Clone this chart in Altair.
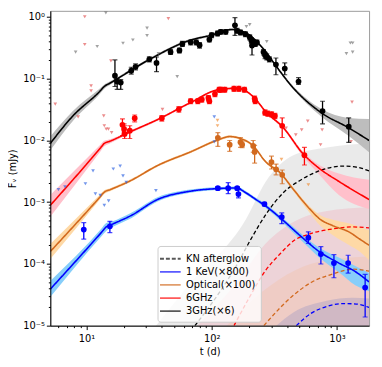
import altair as alt
import pandas as pd

# ---------------- model curves (t in days, F in mJy) ----------------
m3_t = [5.15, 7.8, 12.8, 13.9, 15.5, 31.4, 67.1, 97.7, 145.6, 184, 264, 322, 438, 754, 1236, 1807]
m3_f = [0.0089, 0.0248, 0.0621, 0.0743, 0.0845, 0.20, 0.415, 0.499, 0.621, 0.557, 0.288, 0.166, 0.0743, 0.0277, 0.016, 0.00993]
m3_lo = [0.0069, 0.0206, 0.056, 0.068, 0.079, 0.19, 0.395, 0.475, 0.595, 0.535, 0.275, 0.158, 0.070, 0.024, 0.0118, 0.0064]
m3_hi = [0.0115, 0.0298, 0.069, 0.080, 0.090, 0.21, 0.435, 0.52, 0.645, 0.58, 0.30, 0.174, 0.079, 0.032, 0.023, 0.0222]

m6_t = [5.15, 12.8, 13.9, 15.5, 21.9, 37.6, 67.1, 113, 162, 213, 275, 372, 535, 722, 1037, 1807]
m6_f = [8.87e-4, 7.3e-3, 8.9e-3, 9.71e-3, 0.01345, 0.022, 0.0403, 0.0659, 0.0698, 0.0515, 0.028, 0.01615, 0.0061, 0.00352, 0.00216, 0.0011]
m6_lo = [5.8e-4, 6.4e-3, 8.0e-3, 9.0e-3, 0.0128, 0.021, 0.0388, 0.0635, 0.0672, 0.0495, 0.0268, 0.0153, 0.0055, 0.0028, 0.0013, 0.00077]
m6_hi = [1.3e-3, 8.3e-3, 9.8e-3, 1.04e-2, 0.0141, 0.023, 0.0418, 0.0683, 0.0724, 0.0535, 0.0292, 0.0170, 0.0066, 0.0040, 0.0029, 0.0023]

mo_t = [5.15, 12.8, 13.9, 15.5, 21.9, 37.6, 67.5, 109.5, 139.3, 166.9, 212.6, 270, 355, 451, 610, 731, 930, 1258, 1507, 1807]
mo_f = [1.585e-4, 1.2e-3, 1.45e-3, 1.59e-3, 2.16e-3, 3.97e-3, 6.47e-3, 9.93e-3, 0.0115, 0.0108, 0.00827, 0.00449, 0.00293, 0.00159, 7.66e-4, 5.31e-4, 4.15e-4, 3.26e-4, 2.55e-4, 2.0e-4]
mo_lo = [1.2e-4, 1.1e-3, 1.35e-3, 1.5e-3, 2.05e-3, 3.8e-3, 6.2e-3, 9.5e-3, 0.011, 0.0103, 0.0079, 0.0043, 0.0028, 0.00148, 6.6e-4, 4.2e-4, 2.9e-4, 2.0e-4, 1.6e-4, 1.15e-4]
mo_hi = [2.1e-4, 1.32e-3, 1.56e-3, 1.68e-3, 2.27e-3, 4.15e-3, 6.75e-3, 1.04e-2, 0.0121, 0.0113, 0.0087, 0.0047, 0.0031, 0.0017, 8.4e-4, 6.2e-4, 5.2e-4, 4.5e-4, 4.0e-4, 3.5e-4]

mx_t = [5.15, 13.2, 14.4, 16.0, 22.8, 37, 67.5, 109.5, 157, 188, 226, 270, 372, 503, 722, 1037, 1403, 1807]
mx_f = [3.9e-5, 3.24e-4, 3.96e-4, 4.36e-4, 6.08e-4, 1.1e-3, 1.5e-3, 1.65e-3, 1.69e-3, 1.41e-3, 1.1e-3, 8.64e-4, 5.06e-4, 2.92e-4, 1.585e-4, 1.03e-4, 7.5e-5, 5.1e-5]
mx_lo = [2.9e-5, 2.8e-4, 3.4e-4, 3.9e-4, 5.5e-4, 1.02e-3, 1.42e-3, 1.57e-3, 1.6e-3, 1.33e-3, 1.03e-3, 8.0e-4, 4.6e-4, 2.55e-4, 1.27e-4, 7.3e-5, 4.5e-5, 3.6e-5]
mx_hi = [5.3e-5, 3.75e-4, 4.6e-4, 4.85e-4, 6.7e-4, 1.2e-3, 1.6e-3, 1.74e-3, 1.78e-3, 1.5e-3, 1.17e-3, 9.3e-4, 5.5e-4, 3.25e-4, 1.83e-4, 1.27e-4, 9.2e-5, 7.1e-5]

# ---------------- KN afterglow (dashed) ----------------
kn3_t = [73.5, 117.7, 160, 202.5, 275.4, 374.6, 519, 718, 1109, 1481, 1807]
kn3_f = [1.0e-5, 3.67e-5, 9.86e-5, 2.37e-4, 6.61e-4, 1.43e-3, 2.3e-3, 3.19e-3, 3.83e-3, 3.63e-3, 3.19e-3]
kn6_t = [150.8, 203.6, 267, 348, 465, 610, 925, 1329, 1807]
kn6_f = [1.0e-5, 3.05e-5, 7.62e-5, 1.42e-4, 2.46e-4, 3.07e-4, 3.68e-4, 3.96e-4, 3.82e-4]
kno_t = [261, 342, 465, 633, 925, 1329, 1807]
kno_f = [1.0e-5, 1.83e-5, 3.29e-5, 5.1e-5, 6.84e-5, 8.2e-5, 7.62e-5]
knx_t = [474, 621, 830, 1109, 1429, 1807]
knx_f = [1.0e-5, 1.58e-5, 2.04e-5, 2.28e-5, 2.24e-5, 1.97e-5]

# KN uncertainty regions (upper edges; lower edges run below the axis)
kb3_t = [35.7, 64.8, 188.3, 270, 449, 830, 1807]
kb3_hi = [9.8e-6, 4.4e-5, 5.31e-4, 2.13e-3, 5.73e-3, 7.68e-3, 8.9e-3]
kb3_lo = [1e-6, 1e-6, 1e-6, 1e-6, 1e-6, 1e-6, 1e-6]
kb6_t = [76.2, 157, 270, 465, 815, 1807]
kb6_hi = [9.8e-6, 4.92e-5, 2.13e-4, 4.93e-4, 7.11e-4, 8.24e-4]
kb6_lo = [1e-6, 1e-6, 1e-6, 1e-6, 1e-6, 1e-6]
kbo_t = [131, 247, 465, 815, 1807]
kbo_hi = [9.8e-6, 3.4e-5, 7.91e-5, 1.14e-4, 1.32e-4]
kbo_lo = [1e-6, 1e-6, 1e-6, 1e-6, 1e-6]
kbx_t = [324, 449, 830, 1329, 1807]
kbx_hi = [9.8e-6, 1.64e-5, 2.54e-5, 2.84e-5, 2.74e-5]
kbx_lo = [1e-6, 1e-6, 1e-6, 1e-6, 1e-6]

# ---------------- observations ----------------
d3_t = [16.9, 17.6, 18.8, 22.8, 24.7, 31.8, 36.3, 47.0, 55.3, 58.4, 68.0, 75.3, 80.1, 95.9, 100, 111.5, 118.3, 129.5, 153.5, 160, 169.9, 186, 201.4, 207.3, 210, 216.5, 222.8, 229.8, 259.4, 267, 275.4, 289, 326, 383.5, 494, 768, 1243]
d3_f = [0.111, 0.0893, 0.086, 0.1336, 0.1546, 0.205, 0.179, 0.268, 0.285, 0.363, 0.386, 0.386, 0.346, 0.426, 0.504, 0.537, 0.571, 0.571, 0.727, 0.593, 0.557, 0.523, 0.464, 0.411, 0.342, 0.386, 0.363, 0.386, 0.268, 0.237, 0.223, 0.205, 0.168, 0.145, 0.0893, 0.0298, 0.0166]
d3_lo = [0.0743, 0.0667, 0.0666, 0.118, 0.138, 0.185, 0.129, 0.245, 0.26, 0.33, 0.35, 0.35, 0.31, 0.39, 0.46, 0.49, 0.52, 0.52, 0.499, 0.54, 0.51, 0.475, 0.42, 0.37, 0.24, 0.35, 0.33, 0.35, 0.24, 0.21, 0.2, 0.185, 0.115, 0.115, 0.08, 0.0185, 0.00923]
d3_hi = [0.20, 0.10, 0.096, 0.152, 0.172, 0.225, 0.223, 0.295, 0.31, 0.4, 0.42, 0.42, 0.38, 0.465, 0.55, 0.585, 0.62, 0.62, 0.964, 0.65, 0.61, 0.57, 0.51, 0.455, 0.431, 0.42, 0.4, 0.42, 0.295, 0.265, 0.25, 0.225, 0.215, 0.179, 0.1033, 0.0429, 0.023]

d6_t = [19.4, 20.0, 20.2, 22.2, 24.3, 40.0, 54.7, 68.0, 77.6, 83.5, 94.2, 95.9, 106.2, 115, 118.3, 127.2, 150.8, 165, 182.6, 220.4, 222.8, 267, 280.4, 301.4, 320, 365.8, 550.6]
d6_f = [0.0178, 0.0152, 0.0127, 0.0143, 0.0228, 0.0228, 0.0317, 0.0429, 0.0429, 0.0457, 0.0484, 0.0429, 0.0561, 0.0659, 0.0659, 0.0659, 0.0684, 0.0684, 0.0659, 0.0474, 0.0429, 0.028, 0.027, 0.0264, 0.0248, 0.0172, 0.00573]
d6_lo = [0.0119, 0.0125, 0.0107, 0.0107, 0.0199, 0.0205, 0.0285, 0.039, 0.039, 0.0415, 0.044, 0.039, 0.051, 0.06, 0.06, 0.06, 0.062, 0.062, 0.06, 0.043, 0.039, 0.0255, 0.0245, 0.024, 0.0225, 0.0111, 0.00398]
d6_hi = [0.0222, 0.0185, 0.0172, 0.0172, 0.0257, 0.0252, 0.035, 0.047, 0.047, 0.05, 0.053, 0.047, 0.062, 0.072, 0.072, 0.072, 0.075, 0.075, 0.072, 0.052, 0.047, 0.031, 0.0297, 0.029, 0.0272, 0.023, 0.00768]

do_t = [112.1, 139.3, 169.9, 175.2, 214.6, 220.4, 300.4, 327, 365.8]
do_f = [0.01096, 0.00848, 0.00933, 0.00848, 0.00812, 0.00647, 0.00444, 0.0034, 0.00276]
do_lo = [0.00797, 0.00664, 0.00768, 0.0076, 0.0064, 0.00428, 0.00343, 0.00276, 0.00198]
do_hi = [0.0133, 0.00993, 0.0111, 0.0094, 0.00993, 0.00827, 0.00553, 0.00412, 0.00331]

dx_t = [9.53, 15.4, 112, 135.5, 160, 163.6, 264, 363, 591.6, 745, 947, 1229, 1681]
dx_f = [3.59e-4, 4.06e-4, 1.68e-3, 1.68e-3, 1.68e-3, 1.35e-3, 9.29e-4, 5.71e-4, 2.65e-4, 1.44e-4, 1.03e-4, 1.03e-4, 4.14e-5]
dx_lo = [2.52e-4, 3.21e-4, 1.58e-3, 1.37e-3, 1.58e-3, 1.17e-3, 8.7e-4, 4.47e-4, 2.15e-4, 9.96e-5, 5.97e-5, 7.1e-5, 1.38e-5]
dx_hi = [4.64e-4, 4.88e-4, 1.78e-3, 2.06e-3, 1.78e-3, 1.65e-3, 9.9e-4, 6.68e-4, 3.3e-4, 1.9e-4, 1.41e-4, 1.38e-4, 6.76e-5]

# upper limits
u3_t = [14.3, 8.2, 12.2, 19.6, 23.5, 30.5, 30.5, 37.6, 53.1, 189.4, 201.4, 275.4, 1191, 1281, 1336, 1336]
u3_f = [1.158, 0.268, 0.33, 0.372, 0.42, 0.652, 0.493, 0.252, 0.107, 0.693, 0.746, 0.396, 0.252, 0.376, 0.376, 0.268]
u6_t = [9.7, 9.7, 45.1, 15.7, 10.9, 10.9, 5.64, 8.59, 13.75, 13.9, 14.4, 15.0, 15.9, 40.5, 1321, 393, 469.6, 523.4, 585.5, 762.5, 740.7, 1297]
u6_f = [1.0, 0.355, 0.929, 0.193, 0.0762, 0.0631, 0.0385, 0.0239, 0.0248, 0.0172, 0.0152, 0.0152, 0.0133, 0.0317, 0.0414, 0.0158, 0.01224, 0.0147, 0.0204, 0.0147, 0.00848, 0.00957]
uo_t = [111.4, 111.4, 361, 591.6]
uo_f = [0.021, 0.0172, 0.0049, 0.00191]
ux_t = [5.98, 6.75, 9.82, 11.3, 11.8, 12.9, 13.9, 15.05, 16.4, 18.6, 19.6, 20.8, 35.9, 105, 105]
ux_f = [1.59e-3, 1.76e-3, 1.98e-3, 3.19e-3, 1.36e-3, 1.28e-3, 8.87e-4, 1.045e-3, 3.43e-3, 3.83e-3, 2.66e-3, 2.08e-3, 1.53e-3, 0.0239, 0.00946]

legend_labels = ["KN afterglow", "1 KeV(×800)", "Optical(×100)", "6GHz", "3GHz(×6)"]
legend_colors = ["black", "#0000ff", "#d2691e", "#ff0000", "black"]
legend_dash = [[4, 2], [1, 0], [1, 0], [1, 0], [1, 0]]

x_major = [10, 100, 1000]
x_minor = [6, 7, 8, 9, 20, 30, 40, 50, 60, 70, 80, 90, 200, 300, 400, 500, 600, 700, 800, 900]
y_major = [1e-5, 1e-4, 1e-3, 1e-2, 1e-1, 1]
y_minor = [m * 10.0 ** e for e in range(-5, 0) for m in range(2, 10)]

# ---------------- tables ----------------
def cat(parts):
    return pd.concat([pd.DataFrame(p) for p in parts], ignore_index=True)

models = cat([
    {"t": m3_t, "f": m3_f, "lo": m3_lo, "hi": m3_hi, "label": "3GHz(×6)", "band": "#bdbdbd"},
    {"t": m6_t, "f": m6_f, "lo": m6_lo, "hi": m6_hi, "label": "6GHz", "band": "#ffc0cb"},
    {"t": mo_t, "f": mo_f, "lo": mo_lo, "hi": mo_hi, "label": "Optical(×100)", "band": "#fed9a6"},
    {"t": mx_t, "f": mx_f, "lo": mx_lo, "hi": mx_hi, "label": "1 KeV(×800)", "band": "#87cefa"},
])
kn = cat([
    {"t": kn3_t, "f": kn3_f, "c": "black", "g": "a"},
    {"t": kn6_t, "f": kn6_f, "c": "#ff0000", "g": "b"},
    {"t": kno_t, "f": kno_f, "c": "#d2691e", "g": "c"},
    {"t": knx_t, "f": knx_f, "c": "#0000ff", "g": "d"},
])
knb = cat([
    {"t": kb3_t, "lo": kb3_lo, "hi": kb3_hi, "c": "#808080", "op": 0.17, "g": "a"},
    {"t": kb6_t, "lo": kb6_lo, "hi": kb6_hi, "c": "#ff5070", "op": 0.15, "g": "b"},
    {"t": kbo_t, "lo": kbo_lo, "hi": kbo_hi, "c": "#ffa040", "op": 0.12, "g": "c"},
    {"t": kbx_t, "lo": kbx_lo, "hi": kbx_hi, "c": "#4060c0", "op": 0.18, "g": "d"},
])
obs = cat([
    {"t": d3_t, "f": d3_f, "lo": d3_lo, "hi": d3_hi, "c": "black"},
    {"t": d6_t, "f": d6_f, "lo": d6_lo, "hi": d6_hi, "c": "#ff0000"},
    {"t": do_t, "f": do_f, "lo": do_lo, "hi": do_hi, "c": "#d2691e"},
    {"t": dx_t, "f": dx_f, "lo": dx_lo, "hi": dx_hi, "c": "#0000ff"},
])
uls = cat([
    {"t": u3_t, "f": u3_f, "c": "#707070"},
    {"t": u6_t, "f": u6_f, "c": "#e05050"},
    {"t": uo_t, "f": uo_f, "c": "#f08a30"},
    {"t": ux_t, "f": ux_f, "c": "#2a5fe0"},
])

# ---------------- scales / axes ----------------
xs = alt.Scale(type="log", domain=[5.15, 1807], nice=False)
ys = alt.Scale(type="log", domain=[1e-5, 1.246], nice=False)

ax_x = alt.Axis(orient="bottom", values=x_major, grid=False, zindex=1,
                labelExpr="datum.value == 10 ? '10¹' : datum.value == 100 ? '10²' : '10³'",
                title="t (d)", tickSize=4, tickColor="black", domainColor="black",
                labelFontSize=10, labelColor="black", titleFontSize=10, titleColor="black",
                titleFontWeight="normal", labelPadding=4, titlePadding=3)
ax_xm = alt.Axis(orient="bottom", values=x_minor, grid=False, zindex=1, labels=False,
                 tickSize=2, tickColor="black", domain=False, title=None)
ax_y = alt.Axis(orient="left", values=y_major, grid=False, zindex=1,
                labelExpr="['10⁰','10⁻¹','10⁻²','10⁻³','10⁻⁴','10⁻⁵'][round(-log(datum.value)/LN10)]",
                title="Fᵥ (mJy)", tickSize=4, tickColor="black", domainColor="black",
                labelFontSize=10, labelColor="black", titleFontSize=10, titleColor="black",
                titleFontWeight="normal", labelPadding=2, titlePadding=5)
ax_ym = alt.Axis(orient="left", values=y_minor, grid=False, zindex=1, labels=False,
                 tickSize=2, tickColor="black", domain=False, title=None)


def X(axis=None):
    return alt.X("t:Q", scale=xs, axis=axis)


def Y(field, axis=None):
    return alt.Y(f"{field}:Q", scale=ys, axis=axis)


kn_bands = alt.Chart(knb).mark_area(clip=True, interpolate="monotone").encode(
    x=X(ax_x), y=Y("lo", ax_y), y2="hi:Q",
    color=alt.Color("c:N", scale=None), opacity=alt.Opacity("op:Q", scale=None),
    detail="g:N")

model_bands = alt.Chart(models).mark_area(clip=True, interpolate="monotone").encode(
    x=X(ax_xm), y=Y("lo", ax_ym), y2="hi:Q",
    color=alt.Color("band:N", scale=None), detail="label:N")

kn_lines = alt.Chart(kn).mark_line(clip=True, strokeWidth=1.3, strokeDash=[4, 2.5],
                                   interpolate="monotone").encode(
    x=X(), y=Y("f"), color=alt.Color("c:N", scale=None), detail="g:N")

leg = alt.Legend(title=None, orient="none", legendX=109, legendY=239)
model_lines = alt.Chart(models).mark_line(clip=True, strokeWidth=1.6, interpolate="monotone").encode(
    x=X(), y=Y("f"),
    color=alt.Color("label:N", scale=alt.Scale(domain=legend_labels, range=legend_colors), legend=leg),
    strokeDash=alt.StrokeDash("label:N", scale=alt.Scale(domain=legend_labels, range=legend_dash), legend=leg))

ul_marks = alt.Chart(uls).mark_point(clip=True, shape="triangle-down", filled=True, size=14,
                                     opacity=0.65).encode(
    x=X(), y=Y("f"), color=alt.Color("c:N", scale=None))

err = alt.Chart(obs).mark_rule(clip=True, strokeWidth=1.3).encode(
    x=X(), y=Y("lo"), y2="hi:Q", color=alt.Color("c:N", scale=None))
cap_lo = alt.Chart(obs).mark_tick(clip=True, orient="horizontal", size=5, thickness=1.2).encode(
    x=X(), y=Y("lo"), color=alt.Color("c:N", scale=None))
cap_hi = alt.Chart(obs).mark_tick(clip=True, orient="horizontal", size=5, thickness=1.2).encode(
    x=X(), y=Y("hi"), color=alt.Color("c:N", scale=None))
pts = alt.Chart(obs).mark_point(clip=True, shape="circle", filled=True, size=34, opacity=1).encode(
    x=X(), y=Y("f"), color=alt.Color("c:N", scale=None))

chart = alt.layer(kn_bands, model_bands, kn_lines, model_lines, ul_marks, err, cap_lo, cap_hi, pts
).resolve_axis(x="independent", y="independent").properties(
    width=324, height=320,
    autosize=alt.AutoSizeParams(type="none"),
    padding={"left": 43, "top": 0, "right": 5, "bottom": 30},
).configure(font="DejaVu Sans").configure_view(stroke="#9a9a9a", strokeWidth=1).configure_legend(
    fillColor="rgba(255,255,255,0.8)", strokeColor="#cccccc", cornerRadius=3, padding=5,
    labelFontSize=10, labelFont="DejaVu Sans", labelColor="black",
    symbolType="M-1.5,0H1.5", symbolSize=196, symbolStrokeWidth=1.8,
    symbolFillColor="transparent", rowPadding=0.3, labelOffset=8)

chart.save("out.html", embed_options={"renderer": "svg", "actions": False})
